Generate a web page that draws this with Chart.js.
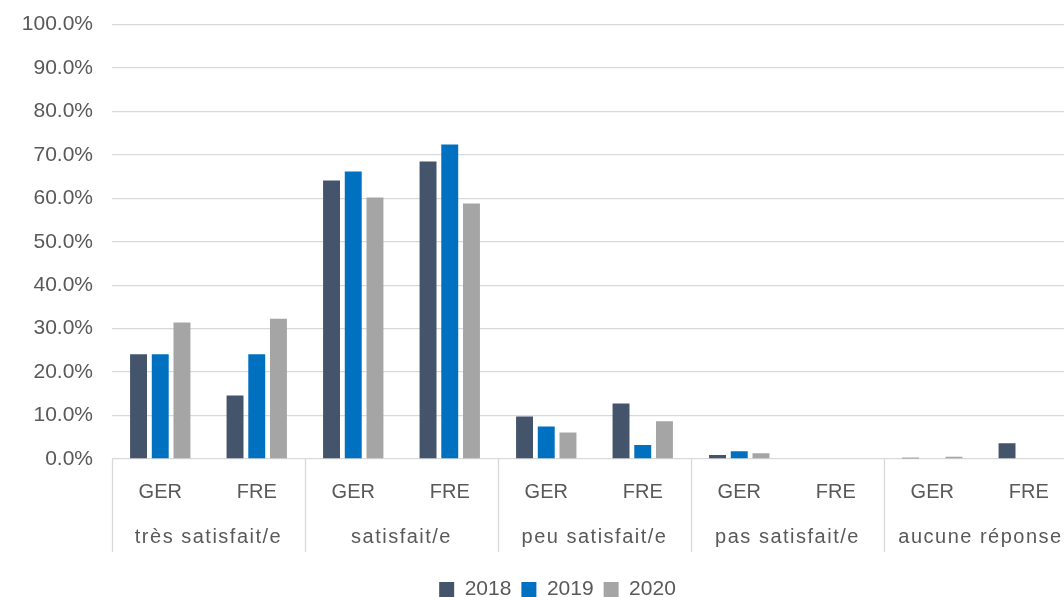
<!DOCTYPE html>
<html>
<head>
<meta charset="utf-8">
<script src="https://cdn.jsdelivr.net/npm/chart.js@4/dist/chart.umd.min.js"></script>
<style>
  html, body { margin: 0; padding: 0; background: #fff; overflow: hidden; }
  #wrap { width: 1116px; height: 617px; position: relative; margin-top: -7px; }
</style>
</head>
<body>
<div id="wrap"><canvas id="c"></canvas></div>
<script>
const subCategories = ["GER", "FRE", "GER", "FRE", "GER", "FRE", "GER", "FRE", "GER", "FRE"];
const groupLabels = ["très satisfait/e", "satisfait/e", "peu satisfait/e", "pas satisfait/e", "aucune réponse"];
const seriesNames = ["2018", "2019", "2020"];
const values2018 = [24.1, 14.6, 64.1, 68.5, 9.8, 12.8, 0.9, 0, 0.3, 3.6];
const values2019 = [24.1, 24.1, 66.2, 72.4, 7.5, 3.2, 1.8, 0, 0, 0];
const values2020 = [31.4, 32.3, 60.2, 58.8, 6.1, 8.7, 1.3, 0, 0.5, 0];
const yTicks = [0, 10, 20, 30, 40, 50, 60, 70, 80, 90, 100];

const colors = ["#44546a", "#0070c0", "#a5a5a5"];
const textColor = "#595959";
const gridColor = "#d9d9d9";
const FONT = "'Liberation Sans', Arial, sans-serif";

const groupPlugin = {
  id: "groupPlugin",
  afterLayout(chart) {
    // centre the legend under the visible part of the chart
    if (chart.legend) { chart.legend.left += 19; chart.legend.right += 19; }
  },
  afterDraw(chart) {
    const x = chart.scales.x;
    const area = chart.chartArea;
    const ctx = chart.ctx;
    const n = subCategories.length;
    const w = (x.right - x.left) / n;
    ctx.save();
    ctx.strokeStyle = gridColor;
    ctx.lineWidth = 1.3;
    for (let g = 0; g <= groupLabels.length; g++) {
      const px = Math.round(x.left + 2 * g * w) + 0.5;
      ctx.beginPath();
      ctx.moveTo(px, area.bottom);
      ctx.lineTo(px, area.bottom + 93);
      ctx.stroke();
    }
    ctx.fillStyle = textColor;
    ctx.font = "20px " + FONT;
    ctx.letterSpacing = "1.5px";
    ctx.textAlign = "center";
    ctx.textBaseline = "middle";
    groupLabels.forEach((lab, g) => {
      const cx = x.left + (2 * g + 1) * w;
      ctx.fillText(lab, cx, area.bottom + 78);
    });
    ctx.restore();
  }
};

new Chart(document.getElementById("c"), {
  type: "bar",
  data: {
    labels: subCategories,
    datasets: [
      { label: seriesNames[0], data: values2018, backgroundColor: colors[0] },
      { label: seriesNames[1], data: values2019, backgroundColor: colors[1] },
      { label: seriesNames[2], data: values2020, backgroundColor: colors[2] }
    ]
  },
  options: {
    responsive: true,
    maintainAspectRatio: false,
    animation: false,
    layout: { padding: { top: 0, right: 39, left: 0, bottom: 0 } },
    datasets: { bar: { categoryPercentage: 0.675, barPercentage: 0.78 } },
    plugins: {
      tooltip: { enabled: false },
      legend: {
        position: "bottom",
        labels: {
          boxWidth: 15, boxHeight: 15, padding: 10,
          color: textColor,
          font: { family: FONT, size: 21 }
        }
      }
    },
    scales: {
      x: {
        grid: { display: false, drawTicks: false },
        border: { display: false },
        ticks: { color: textColor, font: { family: FONT, size: 20 }, padding: 21, maxRotation: 0, autoSkip: false },
        afterFit(scale) { scale.height = 110; }
      },
      y: {
        min: 0, max: 100,
        afterBuildTicks(scale) { scale.ticks = yTicks.map(v => ({ value: v })); },
        grid: { color: gridColor, lineWidth: 1.3, drawTicks: false },
        border: { display: false },
        ticks: {
          color: textColor, font: { family: FONT, size: 21 }, padding: 19,
          callback: v => v.toFixed(1) + "%"
        },
        afterFit(scale) { scale.width = 112; }
      }
    }
  },
  plugins: [groupPlugin]
});
</script>
</body>
</html>
